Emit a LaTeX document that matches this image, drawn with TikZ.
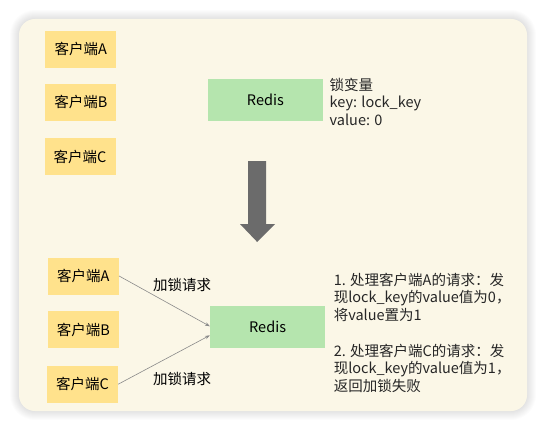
\documentclass[tikz,border=0pt]{standalone}
\usepackage{fontspec}
\setmainfont{Noto Sans CJK SC}
\usetikzlibrary{arrows.meta}
\definecolor{panelbg}{HTML}{FBF7E7}
\definecolor{clientfill}{HTML}{FFE28C}
\definecolor{redisfill}{HTML}{B5E5AE}
\definecolor{downgray}{HTML}{6B6B6B}
\definecolor{reqgray}{HTML}{8A8A8A}
\tikzset{
  clientbox/.style = {fill=clientfill, minimum width=71pt, minimum height=37pt, inner sep=0pt, font=\fontsize{14.5}{17.5}\selectfont},
  redisbox/.style = {fill=redisfill, minimum width=115pt, minimum height=42pt, inner sep=0pt, font=\fontsize{14.5}{17.5}\selectfont},
  note/.style = {anchor=north west, align=left, inner sep=0pt, font=\fontsize{14.5}{17.5}\selectfont, text=black!85},
  req/.style = {draw=reqgray, line width=0.6pt, -{Stealth[length=5pt,width=3.5pt]}}
}

\begin{document}
\begin{tikzpicture}[x=1pt,y=-1pt]
        \useasboundingbox (0,0) rectangle (545,422);
        \fill[white] (0,0) rectangle (545,422);
        \foreach \s in {1,...,9}
            \fill[black, opacity=0.012, rounded corners=16+\s] (19-\s,19-\s) rectangle (527+\s,411+\s);
        \fill[panelbg, rounded corners=16] (19,19) rectangle (527,411);

        \node[clientbox] (cA) at (80.8,49.2) {客户端A};
        \node[clientbox] (cB) at (80.8,102.2) {客户端B};
        \node[clientbox] (cC) at (80,156.7) {客户端C};
        \node[redisbox] (redis) at (265.4,100.1) {Redis};
        \node[note] (lockvar) at (329.5,77.6) {锁变量\\key: lock\_key\\value: 0};

        \fill[downgray] (248,161) -- (266,161) -- (266,224) -- (275,224) -- (257.2,242) -- (240,224) -- (248,224) -- cycle;

        \node[clientbox] (cA2) at (83.4,276) {客户端A};
        \node[clientbox] (cB2) at (83.4,329.5) {客户端B};
        \node[clientbox] (cC2) at (82.5,384.2) {客户端C};
        \node[redisbox] (redis2) at (267.6,327.3) {Redis};
        \node[font=\fontsize{14.5}{17.5}\selectfont] (lblA) at (182,284.7) {加锁请求};
        \node[font=\fontsize{14.5}{17.5}\selectfont] (lblC) at (182,378.6) {加锁请求};
        \draw[req] (cA2.east) -- ([yshift=1pt]redis2.west);
        \draw[req] (cC2.east) -- ([yshift=-8pt]redis2.west);
        \node[note] (note1) at (333.6,272.6) {1. 处理客户端A的请求：发\\现lock\_key的value值为0，\\将value置为1};
        \node[note] (note2) at (333.6,343.9) {2. 处理客户端C的请求：发\\现lock\_key的value值为1，\\返回加锁失败};
    \end{tikzpicture}
\end{document}
